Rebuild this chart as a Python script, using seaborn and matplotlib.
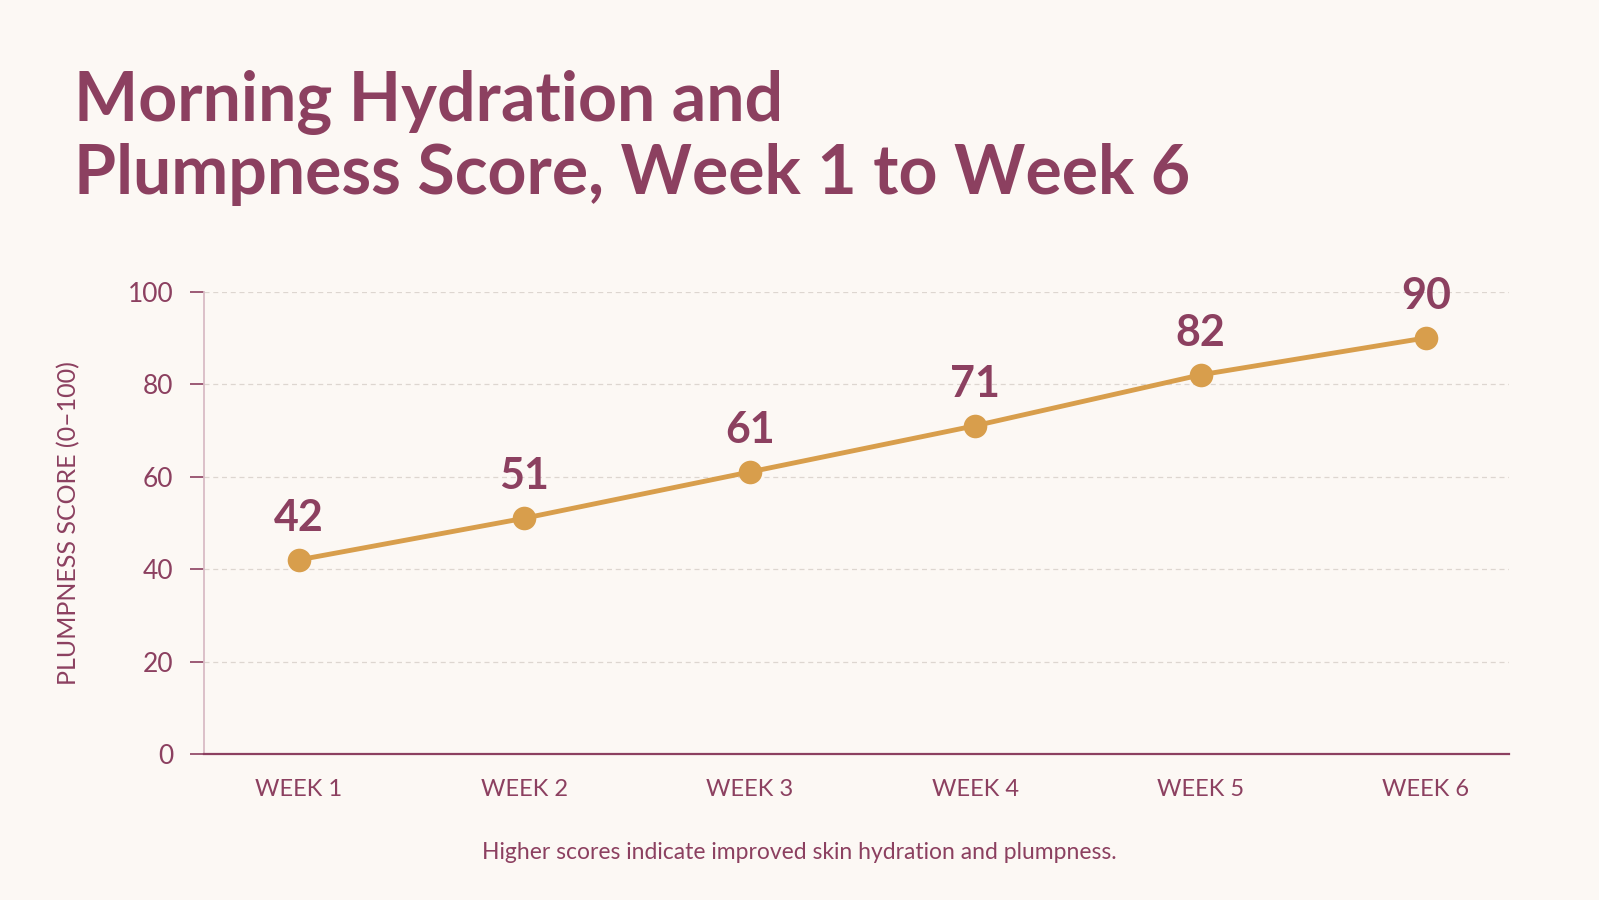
import pandas as pd
import seaborn as sns
import matplotlib.pyplot as plt

# data
weeks = ["WEEK 1", "WEEK 2", "WEEK 3", "WEEK 4", "WEEK 5", "WEEK 6"]
scores = [42, 51, 61, 71, 82, 90]
y_ticks = [0, 20, 40, 60, 80, 100]

df = pd.DataFrame({"week": weeks, "score": scores})

BG = "#FCF8F4"
MAROON = "#8C4060"
GOLD = "#D89E4C"

sns.set_theme(style="white")
plt.rcParams["font.family"] = ["Lato", "DejaVu Sans"]

fig = plt.figure(figsize=(15.99, 9), dpi=100, facecolor=BG)
ax = fig.add_axes([0.1276, 0.162, 0.8164, 0.514], facecolor=BG)

sns.lineplot(data=df, x="week", y="score", ax=ax, color=GOLD, linewidth=3.5,
             marker="o", markersize=17, markeredgewidth=0, sort=False)

for i, v in enumerate(scores):
    ax.annotate(str(v), (i, v), xytext=(0, 16), textcoords="offset points",
                ha="center", va="bottom", fontsize=31, fontweight="bold",
                color=MAROON, annotation_clip=False)

ax.set_ylim(0, 100)
ax.set_xlim(-0.42, 5.37)
ax.set_yticks(y_ticks)
ax.yaxis.grid(True, color="#DDD6D0", linestyle=(0, (4, 3)), linewidth=0.9)
ax.set_axisbelow(True)

for s in ["top", "right"]:
    ax.spines[s].set_visible(False)
ax.spines["left"].set_color("#D9BCC5")
ax.spines["left"].set_linewidth(1.3)
ax.spines["bottom"].set_color(MAROON)
ax.spines["bottom"].set_linewidth(1.6)

ax.tick_params(axis="y", left=True, length=10, width=1.2, color=MAROON,
               labelsize=19, labelcolor=MAROON, pad=12)
ax.tick_params(axis="x", bottom=False, labelsize=17, labelcolor=MAROON, pad=12)

ax.set_xlabel("")
ax.set_ylabel("PLUMPNESS SCORE (0–100)", fontsize=18, color=MAROON, labelpad=0)
ax.yaxis.set_label_coords(-0.095, 0.5)

fig.text(0.046, 0.866, "Morning Hydration and", fontsize=49, fontweight="bold",
         color=MAROON, ha="left", va="baseline")
fig.text(0.046, 0.784, "Plumpness Score, Week 1 to Week 6", fontsize=49,
         fontweight="bold", color=MAROON, ha="left", va="baseline")

fig.text(0.5, 0.046, "Higher scores indicate improved skin hydration and plumpness.",
         fontsize=16.5, color=MAROON, ha="center", va="baseline")

fig.savefig("out.png", dpi=100, facecolor=BG)
